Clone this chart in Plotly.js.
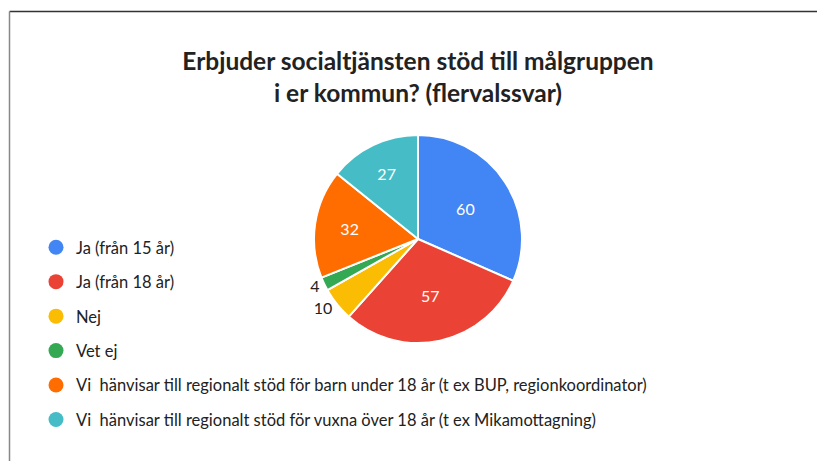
<!DOCTYPE html>
<html>
<head>
<meta charset="utf-8">
<script src="https://cdn.plot.ly/plotly-3.0.1.min.js"></script>
<style>html,body{margin:0;padding:0;background:#fff;}#chart{width:817px;height:461px;}</style>
</head>
<body>
<div id="chart"></div>
<script>
const categories = [
  "Ja (från 15 år)",
  "Ja (från 18 år)",
  "Nej",
  "Vet ej",
  "Vi&nbsp; hänvisar till regionalt stöd för barn under 18 år (t ex BUP, regionkoordinator)",
  "Vi&nbsp; hänvisar till regionalt stöd för vuxna över 18 år (t ex Mikamottagning)"
];
const values = [60, 57, 10, 4, 32, 27];
const colors = ["#4285F4", "#EA4335", "#FBBC04", "#34A853", "#FF6D01", "#46BDC6"];
const titleText = "Erbjuder socialtjänsten stöd till målgruppen<br>i er kommun? (flervalssvar)";

const FONT = "Lato, 'Open Sans', sans-serif";
const W = 817, H = 461;

const traces = [{
  type: "pie",
  labels: categories,
  values: values,
  sort: false,
  direction: "clockwise",
  rotation: 0,
  marker: {colors: colors, line: {color: "#ffffff", width: 2}},
  textinfo: "value",
  textposition: ["inside", "inside", "outside", "outside", "inside", "inside"],
  insidetextorientation: "horizontal",
  insidetextfont: {color: "#ffffff", size: 16, family: FONT},
  outsidetextfont: {color: "#222222", size: 16, family: FONT},
  showlegend: false,
  hoverinfo: "label+value",
  domain: {x: [314 / W, 522 / W], y: [1 - 343 / H, 1 - 135 / H]}
}];

categories.forEach((c, i) => {
  traces.push({
    type: "scatter",
    mode: "markers",
    x: [null], y: [null],
    name: c,
    legendgroup: "g" + i,
    marker: {color: colors[i], size: 15, symbol: "circle"},
    showlegend: true,
    hoverinfo: "skip"
  });
});

const layout = {
  width: W, height: H,
  margin: {l: 0, r: 0, t: 0, b: 0},
  paper_bgcolor: "#ffffff",
  plot_bgcolor: "#ffffff",
  font: {family: FONT, color: "#222222"},
  title: {
    text: titleText,
    font: {family: FONT, size: 24.5, color: "#222222", weight: "bold"},
    x: 418 / W, xanchor: "center", xref: "paper",
    y: 1 - 70 / H, yanchor: "top", yref: "paper"
  },
  xaxis: {visible: false, domain: [0, 0.01]},
  yaxis: {visible: false, domain: [0, 0.01]},
  showlegend: true,
  legend: {
    x: 36 / W, xanchor: "left",
    y: 1 - 230 / H, yanchor: "top",
    traceorder: "grouped",
    tracegroupgap: 10,
    font: {family: FONT, size: 16.5, color: "#222222"},
    bgcolor: "rgba(0,0,0,0)",
    itemclick: false
  },
  shapes: [
    {type: "line", xref: "paper", yref: "paper", x0: 9.5 / W, x1: 1, y0: 1 - 11.5 / H, y1: 1 - 11.5 / H, line: {color: "#333333", width: 1.5}},
    {type: "line", xref: "paper", yref: "paper", x0: 9.5 / W, x1: 9.5 / W, y0: 0, y1: 1 - 11.5 / H, line: {color: "#888888", width: 1.5}}
  ]
};

Plotly.newPlot("chart", traces, layout, {displayModeBar: false, staticPlot: true});
</script>
</body>
</html>
